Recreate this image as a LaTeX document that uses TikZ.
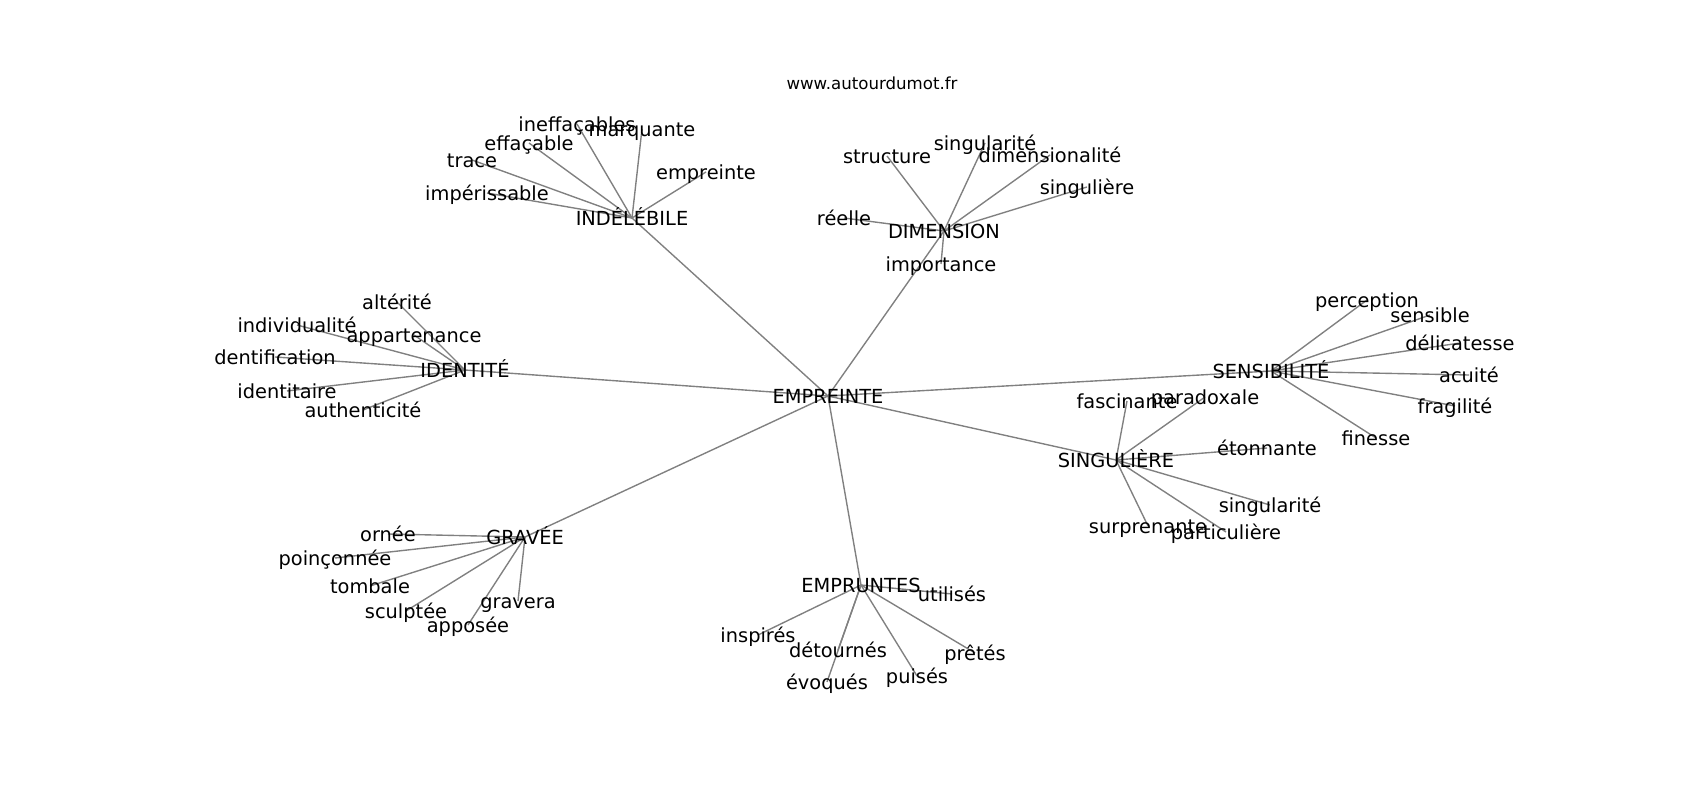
\documentclass[tikz,border=0pt]{standalone}
\usepackage{fontspec}
\setmainfont{DejaVu Sans}
\usetikzlibrary{backgrounds}

\begin{document}
\begin{tikzpicture}[x=0.01in, y=-0.01in,
    word/.style={font=\fontsize{14}{16}\selectfont, inner sep=0pt, text height=1.1em, text depth=0pt},
    link/.style={draw=gray, line width=1pt}]
	\useasboundingbox (0,0) rectangle (1700,800);

            \node[font=\fontsize{12}{14}\selectfont] (site) at (872,83) {www.autourdumot.fr};
            \node[word] (empreinte) at (828,396) {EMPREINTE};

            \foreach \n/\x/\y/\t in {indelebile/632/218/INDÉLÉBILE, dimension/944/231/DIMENSION,
              identite/465/370/IDENTITÉ, sensibilite/1271/371/SENSIBILITÉ, singuliere/1116/460/SINGULIÈRE,
              gravee/525/537/GRAVÉE, empruntes/861/585/EMPRUNTES}{
              \node[word] (\n) at (\x,\y) {\t};
              \begin{scope}[on background layer]
                \draw[link] (empreinte.center) -- (\n.center);
              \end{scope}
            }

            \foreach \h/\n/\x/\y/\t in {
              indelebile/ineffacables/577/124/ineffaçables, indelebile/marquante/642/129/marquante,
              indelebile/effacable/529/143/effaçable, indelebile/trace/472/160/trace,
              indelebile/iempreinte/706/172/empreinte, indelebile/imperissable/487/193/impérissable,
              dimension/structure/887/156/structure, dimension/dsingularite/985/143/singularité,
              dimension/dimensionalite/1050/155/dimensionalité, dimension/dsinguliere/1087/187/singulière,
              dimension/reelle/844/218/réelle, dimension/importance/941/264/importance,
              identite/alterite/397/302/altérité, identite/individualite/297/325/individualité,
              identite/appartenance/414/335/appartenance, identite/dentification/275/357/dentification,
              identite/identitaire/287/391/identitaire, identite/authenticite/363/410/authenticité,
              sensibilite/perception/1367/300/perception, sensibilite/sensible/1430/315/sensible,
              sensibilite/delicatesse/1460/343/délicatesse, sensibilite/acuite/1469/375/acuité,
              sensibilite/fragilite/1455/406/fragilité, sensibilite/finesse/1376/438/finesse,
              singuliere/fascinante/1127/401/fascinante, singuliere/paradoxale/1205/397/paradoxale,
              singuliere/etonnante/1267/448/étonnante, singuliere/ssingularite/1270/505/singularité,
              singuliere/surprenante/1148/526/surprenante, singuliere/particuliere/1226/532/particulière,
              gravee/ornee/388/534/ornée, gravee/poinconnee/335/558/poinçonnée,
              gravee/tombale/370/586/tombale, gravee/sculptee/406/611/sculptée,
              gravee/gravera/518/601/gravera, gravee/apposee/468/625/apposée,
              empruntes/utilises/952/594/utilisés, empruntes/inspires/758/635/inspirés,
              empruntes/detournes/838/650/détournés, empruntes/evoques/827/682/évoqués,
              empruntes/puises/917/676/puisés, empruntes/pretes/975/653/prêtés}{
              \node[word] (\n) at (\x,\y) {\t};
              \begin{scope}[on background layer]
                \draw[link] (\h.center) -- (\n.center);
              \end{scope}
            }
\end{tikzpicture}
\end{document}
